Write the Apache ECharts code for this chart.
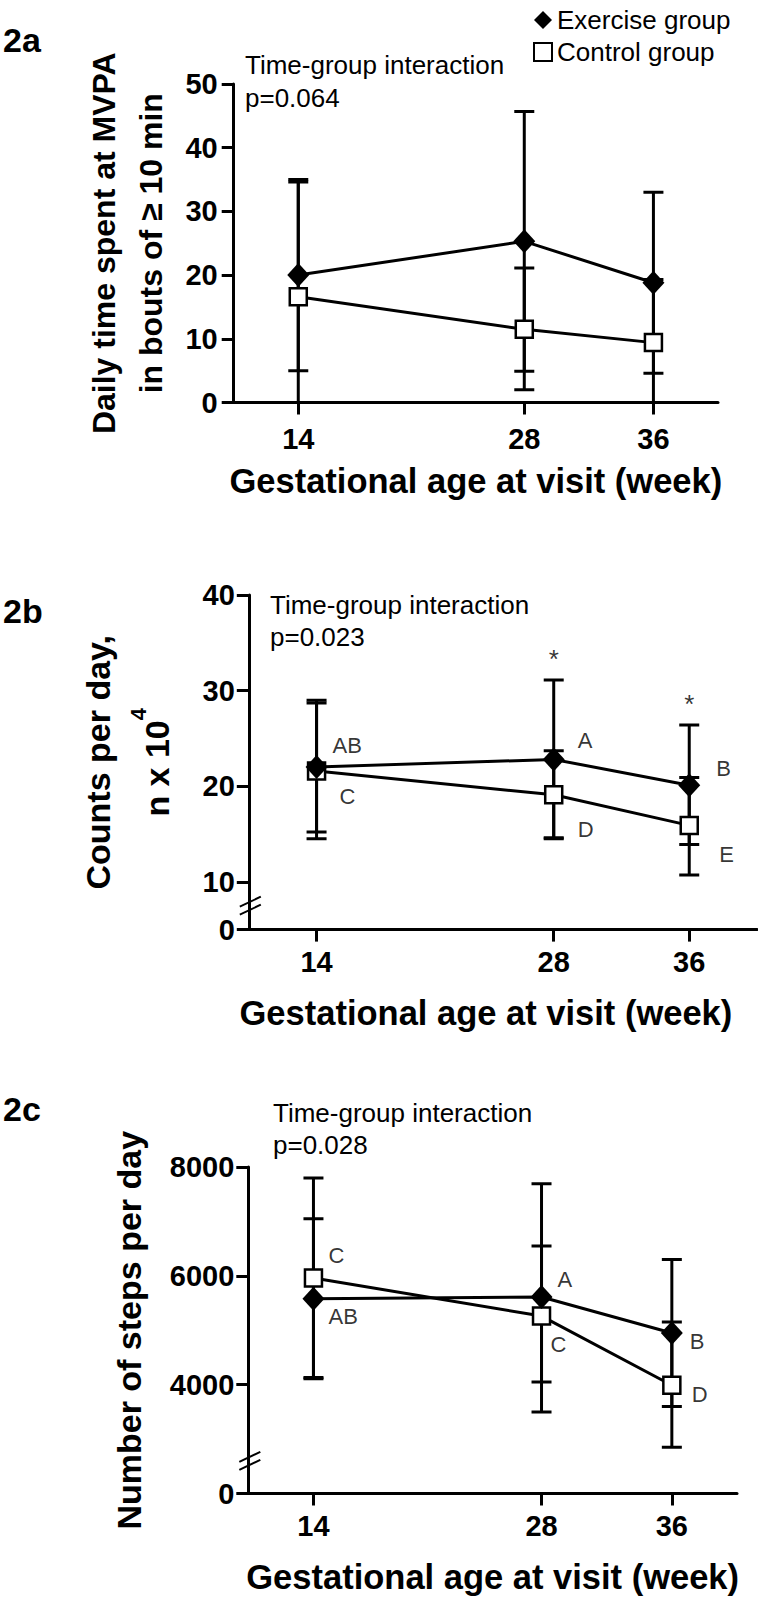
<!DOCTYPE html>
<html><head><meta charset="utf-8">
<script src="https://cdn.jsdelivr.net/npm/echarts@6/dist/echarts.min.js"></script>
<style>html,body{margin:0;padding:0;background:#fff}#c{width:758px;height:1599px}</style>
</head><body><div id="c"></div>
<script>
// ---------- DATA ----------
const weeks = [14, 28, 36];
const xTitle = 'Gestational age at visit (week)';
// 2a: daily MVPA minutes (bouts >= 10 min), mean with SD limits
const mvpaEx   = [20.0, 25.3, 18.8];
const mvpaExLo = [5.0, 4.9, 4.6];
const mvpaExHi = [35.0, 45.7, 33.0];
const mvpaCt   = [16.6, 11.5, 9.4];
const mvpaCtLo = [-1.5, 2.0, -0.5];
const mvpaCtHi = [34.6, 21.1, 19.3];
const yTicksA  = [0, 10, 20, 30, 40, 50];
// 2b: counts per day (x 10^4)
const cntEx   = [22.0, 22.8, 20.1];
const cntExLo = [15.2, 14.5, 13.9];
const cntExHi = [29.0, 31.1, 26.4];
const cntCt   = [21.6, 19.1, 15.9];
const cntCtLo = [14.5, 14.6, 10.7];
const cntCtHi = [28.7, 23.7, 20.9];
const cntExLetters = ['AB', 'A', 'B'];
const cntCtLetters = ['C', 'D', 'E'];
const cntStars = ['', '*', '*'];
const yTicksB = [0, 10, 20, 30, 40];
const breakB = 5;      // axis position where the "0" of the broken axis sits
// 2c: steps per day
const stepEx   = [5580, 5610, 4950];
const stepExLo = [4110, 3500, 3600];
const stepExHi = [7050, 7690, 6300];
const stepCt   = [5960, 5260, 3990];
const stepCtLo = [4130, 4050, 2850];
const stepCtHi = [7800, 6550, 5150];
const stepExLetters = ['AB', 'A', 'B'];
const stepCtLetters = ['C', 'C', 'D'];
const yTicksC = [0, 4000, 6000, 8000];
const breakC = 2000;

// ---------- STYLE / LAYOUT ----------
const FF = '"Liberation Sans", Arial, Helvetica, sans-serif';
const BLACK = '#000';
const grids = [
  {left: 233.7, top: 84, width: 484.3, height: 318.5},
  {left: 248.8, top: 595, width: 508.2, height: 334.6},
  {left: 248.3, top: 1167, width: 488.7, height: 326.5}
];
const exLetterOffB = [[16, -22], [24, -19], [27, -17]];
const ctLetterOffB = [[23, 26], [24, 35], [30, 29]];
const exLetterOffC = [[15, 18], [16, -18], [18, 9]];
const ctLetterOffC = [[15, -23], [9, 28], [20, 9]];

const chart = echarts.init(document.getElementById('c'), null, {renderer: 'svg'});

function errRender(params, api) {
  const x = api.value(0), lo = api.value(1), hi = api.value(2);
  const a = api.coord([x, lo]), b = api.coord([x, hi]);
  const w = 10;
  const st = {stroke: BLACK, lineWidth: 3};
  return {type: 'group', children: [
    {type: 'line', shape: {x1: a[0], y1: a[1], x2: b[0], y2: b[1]}, style: st},
    {type: 'line', shape: {x1: a[0] - w, y1: a[1], x2: a[0] + w, y2: a[1]}, style: st},
    {type: 'line', shape: {x1: b[0] - w, y1: b[1], x2: b[0] + w, y2: b[1]}, style: st}
  ]};
}

function panelSeries(gi, ex, exLo, exHi, ct, ctLo, ctHi) {
  return [
    {type: 'custom', xAxisIndex: gi, yAxisIndex: gi, renderItem: errRender, clip: true, z: 1, silent: true,
      data: weeks.map((w, i) => [w, ctLo[i], ctHi[i]])},
    {type: 'custom', xAxisIndex: gi, yAxisIndex: gi, renderItem: errRender, clip: true, z: 1, silent: true,
      data: weeks.map((w, i) => [w, exLo[i], exHi[i]])},
    {type: 'line', name: 'Control group', xAxisIndex: gi, yAxisIndex: gi, z: 3,
      data: weeks.map((w, i) => [w, ct[i]]),
      symbol: 'rect', symbolSize: 17, showAllSymbol: true,
      lineStyle: {color: BLACK, width: 3},
      itemStyle: {color: '#fff', borderColor: BLACK, borderWidth: 2.5}},
    {type: 'line', name: 'Exercise group', xAxisIndex: gi, yAxisIndex: gi, z: 4,
      data: weeks.map((w, i) => [w, ex[i]]),
      symbol: 'diamond', symbolSize: [22, 24], showAllSymbol: true,
      lineStyle: {color: BLACK, width: 3},
      itemStyle: {color: BLACK}}
  ];
}

function letterSeries(gi, vals, letters, offs) {
  return {type: 'scatter', xAxisIndex: gi, yAxisIndex: gi, symbolSize: 0, silent: true, z: 6,
    data: weeks.map((w, i) => ({value: [w, vals[i]], name: letters[i], label: {offset: offs[i]}})),
    label: {show: true, position: 'inside', formatter: '{b}', align: 'left', verticalAlign: 'middle',
      fontSize: 22, color: BLACK, fontFamily: FF}};
}

function xAxisCfg(gi, labelMargin, nameGap, namePad) {
  return {type: 'value', gridIndex: gi, min: 10, max: 40,
    axisLine: {show: true, onZero: false, lineStyle: {color: BLACK, width: 3}},
    axisTick: {show: true, customValues: weeks, length: 12, lineStyle: {color: BLACK, width: 3}},
    axisLabel: {show: true, customValues: weeks, margin: labelMargin, fontSize: 29, fontWeight: 'bold', color: BLACK, fontFamily: FF},
    splitLine: {show: false},
    name: xTitle, nameLocation: 'middle', nameGap: nameGap,
    nameTextStyle: {fontSize: 34.5, fontWeight: 'bold', color: BLACK, fontFamily: FF, padding: namePad}};
}

function yAxisCfg(gi, min, max, ticks, brk, labelMargin, name, nameGap, nameStyle) {
  const pos = ticks.map(t => (t === 0 && brk !== null) ? brk : t);
  return {type: 'value', gridIndex: gi, min: min, max: max,
    axisLine: {show: true, onZero: false, lineStyle: {color: BLACK, width: 3}},
    axisTick: {show: true, customValues: pos, length: 12, lineStyle: {color: BLACK, width: 3}},
    axisLabel: {show: true, customValues: pos, margin: labelMargin, fontSize: 29, fontWeight: 'bold', color: BLACK, fontFamily: FF,
      formatter: v => (brk !== null && v === brk) ? '0' : String(v)},
    splitLine: {show: false},
    name: name, nameLocation: 'middle', nameRotate: 90, nameGap: nameGap,
    nameTextStyle: nameStyle};
}

const option = {
  animation: false,
  backgroundColor: '#fff',
  grid: grids,
  legend: {orient: 'vertical', left: 528, top: 2, itemWidth: 18, itemHeight: 18, itemGap: 6,
    textStyle: {fontSize: 26, color: BLACK, fontFamily: FF},
    data: [
      {name: 'Exercise group', icon: 'diamond', itemStyle: {color: BLACK, borderWidth: 0}},
      {name: 'Control group', icon: 'rect', itemStyle: {color: '#fff', borderColor: BLACK, borderWidth: 2}}
    ]},
  xAxis: [xAxisCfg(0, 22, 61, [0, 0, 0, 0]), xAxisCfg(1, 18, 66, [0, 34, 0, 0]), xAxisCfg(2, 18, 66, [0, 0, 0, 0])],
  yAxis: [
    yAxisCfg(0, 0, 50, yTicksA, null, 16, 'Daily time spent at MVPA\nin bouts of \u2265 10 min', 46,
      {fontSize: 32, fontWeight: 'bold', color: BLACK, fontFamily: FF, lineHeight: 47}),
    yAxisCfg(1, breakB, 40, yTicksB, breakB, 14, '{b|Counts per day,}\n{b|n x 10}{sup|4}', 62,
      {color: BLACK, fontFamily: FF, lineHeight: 59, rich: {
        b: {fontSize: 34, fontWeight: 'bold', color: BLACK, fontFamily: FF, lineHeight: 59},
        sup: {fontSize: 22, fontWeight: 'bold', color: BLACK, fontFamily: FF, verticalAlign: 'top', lineHeight: 52, padding: [0, 0, 16, 0]}}}),
    yAxisCfg(2, breakC, 8000, yTicksC, breakC, 14, 'Number of steps per day', 102,
      {fontSize: 34, fontWeight: 'bold', color: BLACK, fontFamily: FF})
  ],
  series: [].concat(
    panelSeries(0, mvpaEx, mvpaExLo, mvpaExHi, mvpaCt, mvpaCtLo, mvpaCtHi),
    panelSeries(1, cntEx, cntExLo, cntExHi, cntCt, cntCtLo, cntCtHi),
    panelSeries(2, stepEx, stepExLo, stepExHi, stepCt, stepCtLo, stepCtHi),
    [
      letterSeries(1, cntEx, cntExLetters, exLetterOffB),
      letterSeries(1, cntCt, cntCtLetters, ctLetterOffB),
      letterSeries(2, stepEx, stepExLetters, exLetterOffC),
      letterSeries(2, stepCt, stepCtLetters, ctLetterOffC),
      {type: 'scatter', xAxisIndex: 1, yAxisIndex: 1, symbolSize: 0, silent: true, z: 6,
        data: weeks.map((w, i) => ({value: [w, cntExHi[i]], name: cntStars[i]})),
        label: {show: true, position: 'inside', formatter: '{b}', offset: [0, -21], align: 'center', verticalAlign: 'middle',
          fontSize: 26, color: BLACK, fontFamily: FF}}
    ]
  )
};
chart.setOption(option);

// annotations & axis-break marks (positions derived from the axes)
function txt(id, x, y, text, size, bold) {
  return {type: 'text', id: id, x: x, y: y, z: 10,
    style: {text: text, fontSize: size, fontWeight: bold ? 'bold' : 'normal', fill: BLACK, fontFamily: FF,
      textAlign: 'left', textVerticalAlign: 'middle'}};
}
const g = [];
g.push(txt('l2a', 3, 40, '2a', 34, true));
g.push(txt('l2b', 3, 611, '2b', 34, true));
g.push(txt('l2c', 3, 1109, '2c', 34, true));
const inter = [['0.064', 0, 245], ['0.023', 1, 270], ['0.028', 2, 273]];
const interY = [[65, 97.5], [605, 637], [1113, 1145]];
inter.forEach((it, k) => {
  g.push(txt('ti' + k, it[2], interY[k][0], 'Time-group interaction', 26, false));
  g.push(txt('tp' + k, it[2], interY[k][1], 'p=' + it[0], 26, false));
});
[[1, 7.5], [2, 2600]].forEach((b, k) => {
  const p = chart.convertToPixel({xAxisIndex: b[0], yAxisIndex: b[0]}, [10, b[1]]);
  [-4, 4].forEach((dy, j) => {
    g.push({type: 'line', id: 'br' + k + j, z: 10,
      shape: {x1: p[0] - 9, y1: p[1] + dy + 5, x2: p[0] + 12, y2: p[1] + dy - 5},
      style: {stroke: BLACK, lineWidth: 2}});
  });
});
chart.setOption({graphic: g});
</script>
</body></html>
